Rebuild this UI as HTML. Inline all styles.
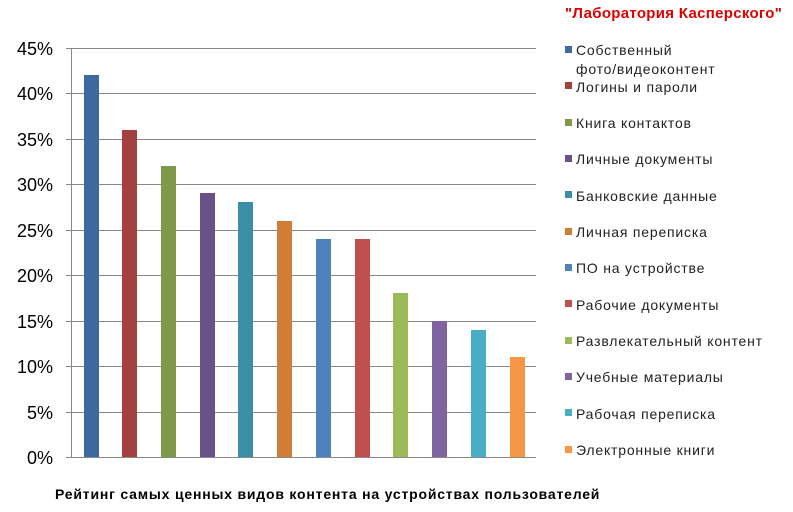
<!DOCTYPE html>
<html><head><meta charset="utf-8"><style>
body{margin:0;background:#fff;}
text{font-family:"Liberation Sans","DejaVu Sans",sans-serif;}
</style></head><body>
<svg width="793" height="507" xmlns="http://www.w3.org/2000/svg">
<rect width="793" height="507" fill="#fff"/>
<g stroke="#888" stroke-width="1">
<line x1="66" y1="48.5" x2="536" y2="48.5"/>
<line x1="66" y1="93.5" x2="536" y2="93.5"/>
<line x1="66" y1="139.5" x2="536" y2="139.5"/>
<line x1="66" y1="184.5" x2="536" y2="184.5"/>
<line x1="66" y1="230.5" x2="536" y2="230.5"/>
<line x1="66" y1="275.5" x2="536" y2="275.5"/>
<line x1="66" y1="321.5" x2="536" y2="321.5"/>
<line x1="66" y1="366.5" x2="536" y2="366.5"/>
<line x1="66" y1="412.5" x2="536" y2="412.5"/>
<line x1="66" y1="457.5" x2="536" y2="457.5"/>
<line x1="71.5" y1="48" x2="71.5" y2="458"/>
</g>
<g font-size="18" fill="#000" text-anchor="end">
<text x="53" y="55">45%</text><text x="53" y="100">40%</text><text x="53" y="146">35%</text>
<text x="53" y="191">30%</text><text x="53" y="237">25%</text><text x="53" y="282">20%</text>
<text x="53" y="328">15%</text><text x="53" y="373">10%</text><text x="53" y="419">5%</text>
<text x="53" y="464">0%</text>
</g>
<g>
<rect x="84" y="75" width="15" height="382" fill="#3D68A0"/>
<rect x="122" y="130" width="15" height="327" fill="#A4403D"/>
<rect x="161" y="166" width="15" height="291" fill="#7E9A48"/>
<rect x="200" y="193" width="15" height="264" fill="#6A5187"/>
<rect x="238" y="202" width="15" height="255" fill="#3A8EA5"/>
<rect x="277" y="221" width="15" height="236" fill="#D07D35"/>
<rect x="316" y="239" width="15" height="218" fill="#4F81BD"/>
<rect x="355" y="239" width="15" height="218" fill="#C0504D"/>
<rect x="393" y="293" width="15" height="164" fill="#9BBB59"/>
<rect x="432" y="321" width="15" height="136" fill="#8064A2"/>
<rect x="471" y="330" width="15" height="127" fill="#4BACC6"/>
<rect x="510" y="357" width="15" height="100" fill="#F79646"/>
</g>
<text x="565" y="18" font-size="15" font-weight="bold" fill="#E00000" letter-spacing="0.3">"Лаборатория Касперского"</text>
<g font-size="14" fill="#222" letter-spacing="0.8">
<rect x="565" y="46" width="7" height="7" fill="#3D68A0"/><text x="576" y="55">Собственный</text><text x="576" y="74">фото/видеоконтент</text>
<rect x="565" y="82" width="7" height="7" fill="#A4403D"/><text x="576" y="92">Логины и пароли</text>
<rect x="565" y="119" width="7" height="7" fill="#7E9A48"/><text x="576" y="128">Книга контактов</text>
<rect x="565" y="155" width="7" height="7" fill="#6A5187"/><text x="576" y="164">Личные документы</text>
<rect x="565" y="191" width="7" height="7" fill="#3A8EA5"/><text x="576" y="201">Банковские данные</text>
<rect x="565" y="228" width="7" height="7" fill="#D07D35"/><text x="576" y="237">Личная переписка</text>
<rect x="565" y="264" width="7" height="7" fill="#4F81BD"/><text x="576" y="273">ПО на устройстве</text>
<rect x="565" y="300" width="7" height="7" fill="#C0504D"/><text x="576" y="310">Рабочие документы</text>
<rect x="565" y="337" width="7" height="7" fill="#9BBB59"/><text x="576" y="346">Развлекательный  контент</text>
<rect x="565" y="373" width="7" height="7" fill="#8064A2"/><text x="576" y="382">Учебные материалы</text>
<rect x="565" y="409" width="7" height="7" fill="#4BACC6"/><text x="576" y="419">Рабочая переписка</text>
<rect x="565" y="446" width="7" height="7" fill="#F79646"/><text x="576" y="455">Электронные книги</text>
</g>
<text x="55" y="499" font-size="14" font-weight="bold" fill="#000" letter-spacing="0.8">Рейтинг самых ценных видов контента на устройствах пользователей</text>
</svg>
</body></html>
